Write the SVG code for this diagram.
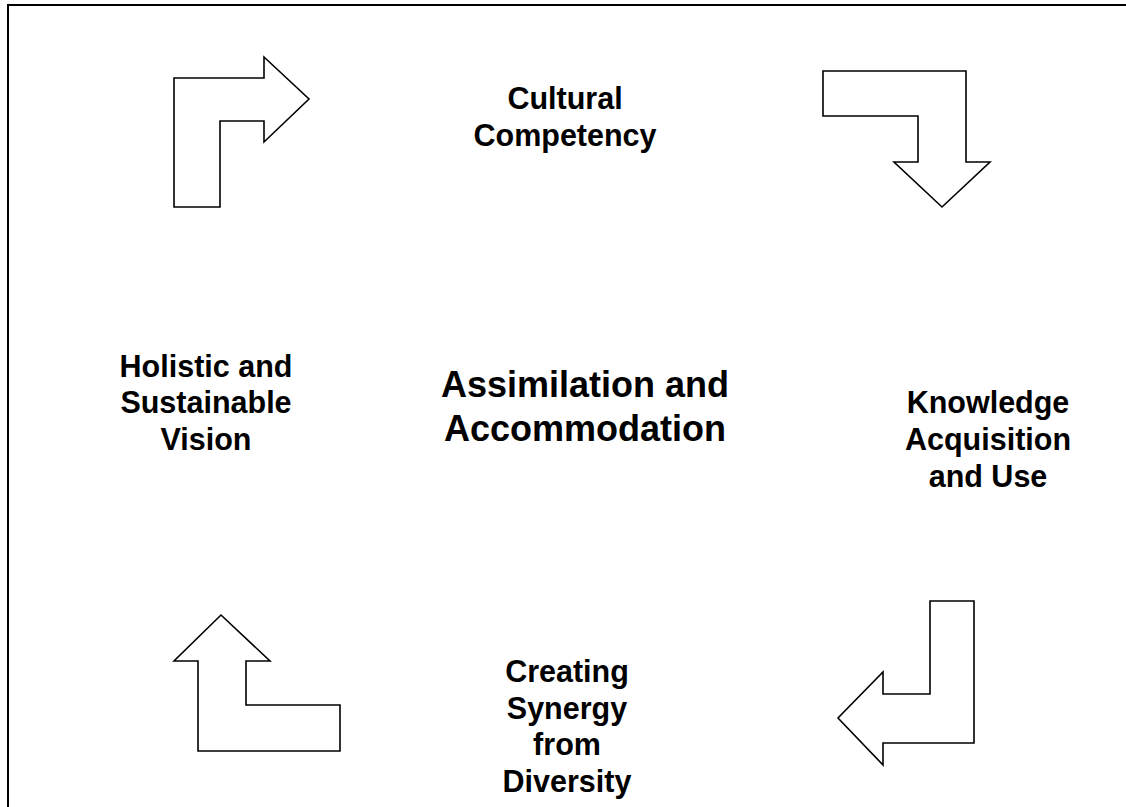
<svg xmlns="http://www.w3.org/2000/svg" width="1126" height="807" viewBox="0 0 1126 807">
  <style>
    .frame { fill: none; stroke: #000; stroke-width: 2; }
    .arrow { fill: #fff; stroke: #000; stroke-width: 1.6; stroke-linejoin: miter; }
    .label { font-family: "Liberation Sans", Arial, sans-serif; font-weight: bold; font-size: 30.5px; fill: #000; text-anchor: middle; }
    .title { font-family: "Liberation Sans", Arial, sans-serif; font-weight: bold; font-size: 36px; fill: #000; text-anchor: middle; }
  </style>
  <rect width="1126" height="807" fill="#fff"/>
  <!-- outer frame: top and left edges only show inside the page -->
  <path class="frame" d="M8,807 V5 H1126"/>

  <!-- cycle arrows -->
  <g id="connectors">
    <path class="arrow" d="M174,207 V78 H264 V57 L309,99 L264,142 V121 H220 V207 Z"/>
    <path class="arrow" d="M823,71 H966 V162 H990 L942,207 L894,162 H918 V116 H823 Z"/>
    <path class="arrow" d="M930,601 H974 V743 H883 V765 L838,718 L883,672 V694 H930 Z"/>
    <path class="arrow" d="M221,615 L270,661 H246 V705 H340 V751 H198 V661 H174 Z"/>
  </g>

  <g id="cultural-competency">
    <text class="label" x="565" y="109">Cultural</text>
    <text class="label" x="565" y="146">Competency</text>
  </g>

  <g id="knowledge-acquisition">
    <text class="label" x="988" y="413">Knowledge</text>
    <text class="label" x="988" y="450">Acquisition</text>
    <text class="label" x="988" y="487">and Use</text>
  </g>

  <g id="creating-synergy">
    <text class="label" x="567" y="682">Creating</text>
    <text class="label" x="567" y="719">Synergy</text>
    <text class="label" x="567" y="755">from</text>
    <text class="label" x="567" y="792">Diversity</text>
  </g>

  <g id="holistic-vision">
    <text class="label" x="206" y="377">Holistic and</text>
    <text class="label" x="206" y="413">Sustainable</text>
    <text class="label" x="206" y="450">Vision</text>
  </g>

  <g id="assimilation">
    <text class="title" x="585" y="397">Assimilation and</text>
    <text class="title" x="585" y="441">Accommodation</text>
  </g>
</svg>
